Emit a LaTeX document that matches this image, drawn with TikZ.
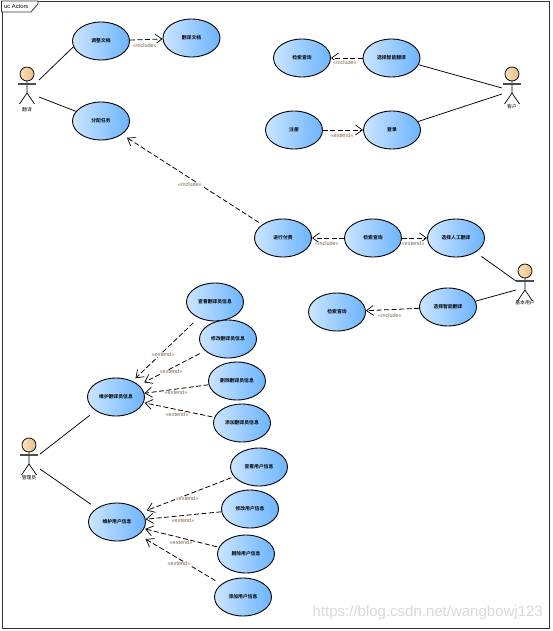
\documentclass[tikz,border=0pt]{standalone}
\usepackage{fontspec}
\setmainfont{Liberation Sans}
\newfontfamily\cjk{Noto Sans CJK SC}[BoldFont={* Bold}]
\usetikzlibrary{arrows.meta,shapes.geometric}
\definecolor{ucL}{HTML}{CBE5FF}
\definecolor{ucR}{HTML}{6CB4FF}
\definecolor{headL}{HTML}{F9E2BC}
\definecolor{headR}{HTML}{EDBE84}
\definecolor{stereo}{HTML}{7A6650}
\tikzset{
  usecase/.style={ellipse,draw=black,line width=.9pt,left color=ucL,right color=ucR,
    minimum width=57pt,minimum height=38pt,inner sep=0pt,font=\cjk\fontsize{4.8}{5}\selectfont\bfseries},
  assoc/.style={draw=black,line width=.75pt},
  dep/.style={draw=black,line width=.8pt,dash pattern=on 5pt off 2.5pt,-{Straight Barb[length=7pt,width=10pt,line width=.7pt]}},
  stereotype/.style={inner sep=.4pt,fill=white,text=stereo,font=\fontsize{5.5}{6}\selectfont},
  actorname/.style={inner sep=0pt,font=\cjk\fontsize{4.8}{5}\selectfont},
  actorhead/.style={circle,draw=black,line width=.75pt,left color=headL,right color=headR,minimum size=14pt,inner sep=0pt},
  limb/.style={draw=black,line width=.7pt},
  arm/.style={draw=black!70,line width=1.1pt}
}
\newcommand{\stickman}[5]{% name, x, y(head), label y offset, label
  \node[actorhead] (#1) at (#2,#3) {};
  \coordinate (#1n) at (#2,#3+7);
  \coordinate (#1h) at (#2,#3+19);
  \coordinate (#1al) at (#2-9,#3+10);
  \coordinate (#1ar) at (#2+9,#3+10);
  \coordinate (#1ll) at (#2-7.5,#3+30);
  \coordinate (#1lr) at (#2+7.5,#3+30);
  \draw[limb] (#1n) -- (#1h) (#1ll) -- (#1h) -- (#1lr);
  \draw[arm] (#1al) -- (#1ar);
  \node[actorname] (#1t) at (#2,#3+#4) {#5};
}
\begin{document}
\begin{tikzpicture}[x=1pt,y=-1pt]
\useasboundingbox (0,0) rectangle (553,631);
\fill[white] (0,0) rectangle (553,631);
\node[draw=black!80,line width=1pt,minimum width=547.5pt,minimum height=627pt,inner sep=0pt,anchor=north west] (frame) at (1.5,1) {};
\draw[draw=black!80,line width=.8pt,fill=white] (1.5,1) -- (38,1) -- (38,4) -- (31,12) -- (1.5,12) -- cycle;
\node[inner sep=0pt,font=\fontsize{5.8}{6}\selectfont,anchor=west] (frametitle) at (4,6.5) {uc Actors};

% use cases
\node[usecase] (a1) at (101,41) {调整文档};
\node[usecase] (a2) at (191.5,38) {翻译文档};
\node[usecase] (a3) at (101,121) {分配任务};
\node[usecase] (b1) at (302,58) {检索查询};
\node[usecase] (b2) at (391.5,58) {选择智能翻译};
\node[usecase] (b3) at (294,130) {注册};
\node[usecase] (b4) at (392,130) {登录};
\node[usecase] (c1) at (283,238) {进行付费};
\node[usecase] (c2) at (373,238) {检索查询};
\node[usecase] (c3) at (456,238) {选择人工翻译};
\node[usecase] (d1) at (337,312) {检索查询};
\node[usecase] (d2) at (448,307) {选择智能翻译};
\node[usecase] (e0) at (116,397) {维护翻译员信息};
\node[usecase] (e1) at (215,302) {查看翻译员信息};
\node[usecase] (e2) at (228,339) {修改翻译员信息};
\node[usecase] (e3) at (237,381) {删除翻译员信息};
\node[usecase] (e4) at (242,423) {添加翻译员信息};
\node[usecase] (f0) at (117,522) {维护用户信息};
\node[usecase] (f1) at (259,467) {查看用户信息};
\node[usecase] (f2) at (250,509) {修改用户信息};
\node[usecase] (f3) at (246,554) {删除用户信息};
\node[usecase] (f4) at (243,597) {添加用户信息};

% actors
\stickman{t}{27}{74}{36}{翻译}
\stickman{k}{512}{74}{32.5}{客户}
\stickman{u}{525}{271}{32}{基本用户}
\stickman{m}{29}{445}{32.5}{管理员}

% association ends at the actors
\coordinate (t1) at (39,80);
\coordinate (t2) at (39,97);
\coordinate (k1) at (502,88);
\coordinate (k2) at (502,94);
\coordinate (u1) at (516,281);
\coordinate (u2) at (516,290);
\coordinate (m1) at (40,454);
\coordinate (m2) at (40,469);

\draw[assoc] (t1) -- (a1.192);
\draw[assoc] (t2) -- (a3.159);
\draw[assoc] (k1) -- (b2.-14);
\draw[assoc] (k2) -- (b4.18);
\draw[assoc,shorten >=7pt] (u1) -- (c3.-36);
\draw[assoc] (u2) -- (d2.12);
\draw[assoc,shorten >=7pt] (m1) -- (e0.214);
\draw[assoc,shorten >=7pt] (m2) -- (f0.146);

% dependencies
\draw[dep] (a1) -- (a2);
\node[stereotype] (l1) at (145,45.5) {«include»};
\draw[dep,shorten <=4pt,shorten >=6pt] (c1) -- (a3);
\node[stereotype] (l2) at (190,185) {«include»};
\draw[dep] (b2) -- (b1);
\node[stereotype] (l3) at (345,62.5) {«include»};
\draw[dep] (b3) -- (b4);
\node[stereotype] (l4) at (342,135.5) {«extend»};
\draw[dep] (c2) -- (c1);
\node[stereotype] (l5) at (327,244) {«include»};
\draw[dep] (c2) -- (c3);
\node[stereotype] (l6) at (413,243.5) {«extend»};
\draw[dep] (d2) -- (d1);
\node[stereotype] (l7) at (390,315.5) {«include»};

\draw[dep,shorten <=7pt,shorten >=4pt] (e1) -- (e0);
\node[stereotype] (l8) at (163,355) {«extend»};
\draw[dep,shorten <=6pt,shorten >=6pt] (e2) -- (e0);
\node[stereotype] (l9) at (171,372) {«extend»};
\draw[dep] (e3) -- (e0);
\node[stereotype] (l10) at (176,393) {«extend»};
\draw[dep,shorten <=2pt,shorten >=1pt] (e4) -- (e0);
\node[stereotype] (l11) at (177,415) {«extend»};

\draw[dep,shorten <=3pt,shorten >=5pt] (f1) -- (f0);
\node[stereotype] (l12) at (187,499) {«extend»};
\draw[dep] (f2) -- (f0);
\node[stereotype] (l13) at (183,520.5) {«extend»};
\draw[dep,shorten <=2pt,shorten >=1pt] (f3) -- (f0);
\node[stereotype] (l14) at (181,543) {«extend»};
\draw[dep,shorten <=7pt,shorten >=8pt] (f4) -- (f0);
\node[stereotype] (l15) at (179,564) {«extend»};

\node[inner sep=0pt,text=black!15,font=\fontsize{15}{17}\selectfont,anchor=east] (wm) at (543,613) {https://blog.csdn.net/wangbowj123};
\end{tikzpicture}
\end{document}
